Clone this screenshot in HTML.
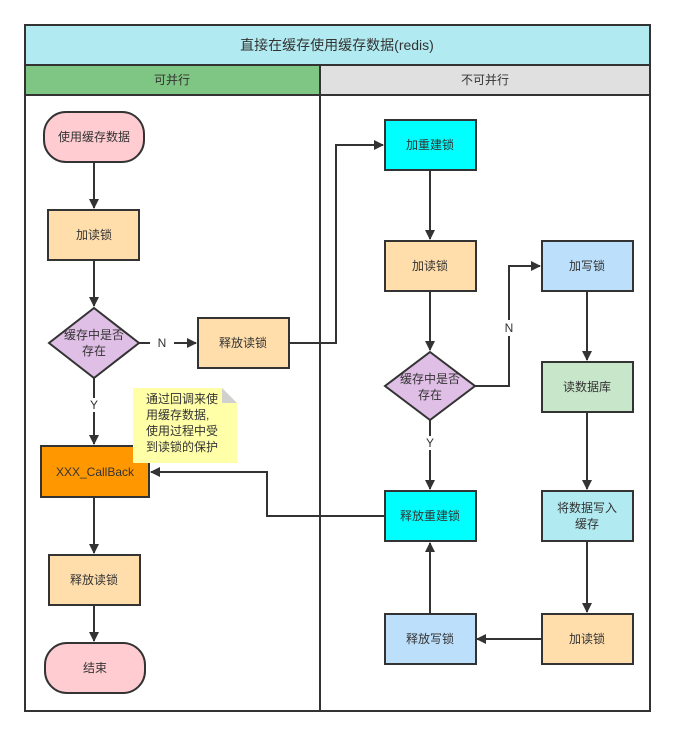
<!DOCTYPE html>
<html><head><meta charset="utf-8"><style>
body{margin:0;background:#fff;}
svg text{font-family:"Liberation Sans","Noto Sans CJK SC",sans-serif;font-size:12px;fill:#333;text-anchor:middle;dominant-baseline:central;}
</style></head><body>
<svg width="676" height="736" viewBox="0 0 676 736" xmlns="http://www.w3.org/2000/svg">
<defs><marker id="a" markerWidth="10" markerHeight="10" refX="9" refY="5" orient="auto" markerUnits="userSpaceOnUse"><path d="M0,0 L10,5 L0,10 Z" fill="#333"/></marker></defs>
<rect x="0" y="0" width="676" height="736" fill="#fff"/>
<rect x="25" y="25" width="625" height="40" fill="#b1ebf1" stroke="#333" stroke-width="2"/>
<text x="337" y="45" style="font-size:14px">直接在缓存使用缓存数据(redis)</text>
<rect x="25" y="65" width="295" height="30" fill="#7fc583" stroke="#333" stroke-width="2"/>
<text x="172" y="80">可并行</text>
<rect x="320" y="65" width="330" height="30" fill="#e0e0e0" stroke="#333" stroke-width="2"/>
<text x="485" y="80">不可并行</text>
<rect x="25" y="95" width="295" height="616" fill="none" stroke="#333" stroke-width="2"/>
<rect x="320" y="95" width="330" height="616" fill="none" stroke="#333" stroke-width="2"/>
<g stroke="#333" stroke-width="2" fill="none">
<path d="M94 162 V208" marker-end="url(#a)"/>
<path d="M94 260 V306" marker-end="url(#a)"/>
<path d="M139 343 H196" marker-end="url(#a)"/>
<path d="M94 378 V444" marker-end="url(#a)"/>
<path d="M94 497 V553" marker-end="url(#a)"/>
<path d="M94 605 V641" marker-end="url(#a)"/>
<path d="M289 343 H336 V145 H383" marker-end="url(#a)"/>
<path d="M430 170 V239" marker-end="url(#a)"/>
<path d="M430 291 V350" marker-end="url(#a)"/>
<path d="M430 420 V489" marker-end="url(#a)"/>
<path d="M475 386 H509 V266 H540" marker-end="url(#a)"/>
<path d="M587 291 V360" marker-end="url(#a)"/>
<path d="M587 412 V489" marker-end="url(#a)"/>
<path d="M587 541 V612" marker-end="url(#a)"/>
<path d="M542 639 H477" marker-end="url(#a)"/>
<path d="M430 614 V543" marker-end="url(#a)"/>
<path d="M385 516 H267 V472 H151" marker-end="url(#a)"/>
</g>
<rect x="150" y="337" width="24" height="14" fill="#fff"/><text x="162" y="343">N</text>
<rect x="86" y="398" width="16" height="14" fill="#fff"/><text x="94" y="405">Y</text>
<rect x="500" y="320" width="18" height="16" fill="#fff"/><text x="509" y="328">N</text>
<rect x="422" y="436" width="16" height="14" fill="#fff"/><text x="430" y="443">Y</text>
<g stroke="#333" stroke-width="2">
<rect x="44" y="112" width="100" height="50" rx="22" fill="#ffccd1"/>
<rect x="48" y="210" width="91" height="50" fill="#ffdeac"/>
<polygon points="94,308 139,343 94,378 49,343" fill="#e0bfe6"/>
<rect x="198" y="318" width="91" height="50" fill="#ffdeac"/>
<rect x="41" y="446" width="108" height="51" fill="#ff9800"/>
<rect x="49" y="555" width="91" height="50" fill="#ffdeac"/>
<rect x="45" y="643" width="100" height="50" rx="22" fill="#ffccd1"/>
<rect x="385" y="120" width="91" height="50" fill="#00ffff"/>
<rect x="385" y="241" width="91" height="50" fill="#ffdeac"/>
<polygon points="430,352 475,386 430,420 385,386" fill="#e0bfe6"/>
<rect x="385" y="491" width="91" height="50" fill="#00ffff"/>
<rect x="385" y="614" width="91" height="50" fill="#bcdffb"/>
<rect x="542" y="241" width="91" height="50" fill="#bcdffb"/>
<rect x="542" y="362" width="91" height="50" fill="#c8e6c9"/>
<rect x="542" y="491" width="91" height="50" fill="#b1ebf1"/>
<rect x="542" y="614" width="91" height="50" fill="#ffdeac"/>
</g>
<polygon points="133,388 222,388 237,403 237,463 133,463" fill="#ffffa8"/>
<polygon points="222,388 237,403 222,403" fill="#d0d0d0"/>
<text x="94" y="137">使用缓存数据</text>
<text x="94" y="235">加读锁</text>
<text x="94" y="335">缓存中是否</text><text x="94" y="351">存在</text>
<text x="243" y="343">释放读锁</text>
<g style="text-anchor:start"><text x="146" y="399" style="text-anchor:start">通过回调来使</text>
<text x="146" y="415" style="text-anchor:start">用缓存数据,</text>
<text x="146" y="431" style="text-anchor:start">使用过程中受</text>
<text x="146" y="447" style="text-anchor:start">到读锁的保护</text></g>
<text x="95" y="472">XXX_CallBack</text>
<text x="94" y="580">释放读锁</text>
<text x="95" y="668">结束</text>
<text x="430" y="145">加重建锁</text>
<text x="430" y="266">加读锁</text>
<text x="430" y="379">缓存中是否</text><text x="430" y="395">存在</text>
<text x="430" y="516">释放重建锁</text>
<text x="430" y="639">释放写锁</text>
<text x="587" y="266">加写锁</text>
<text x="587" y="387">读数据库</text>
<text x="587" y="508">将数据写入</text><text x="587" y="524">缓存</text>
<text x="587" y="639">加读锁</text>
</svg>
</body></html>
